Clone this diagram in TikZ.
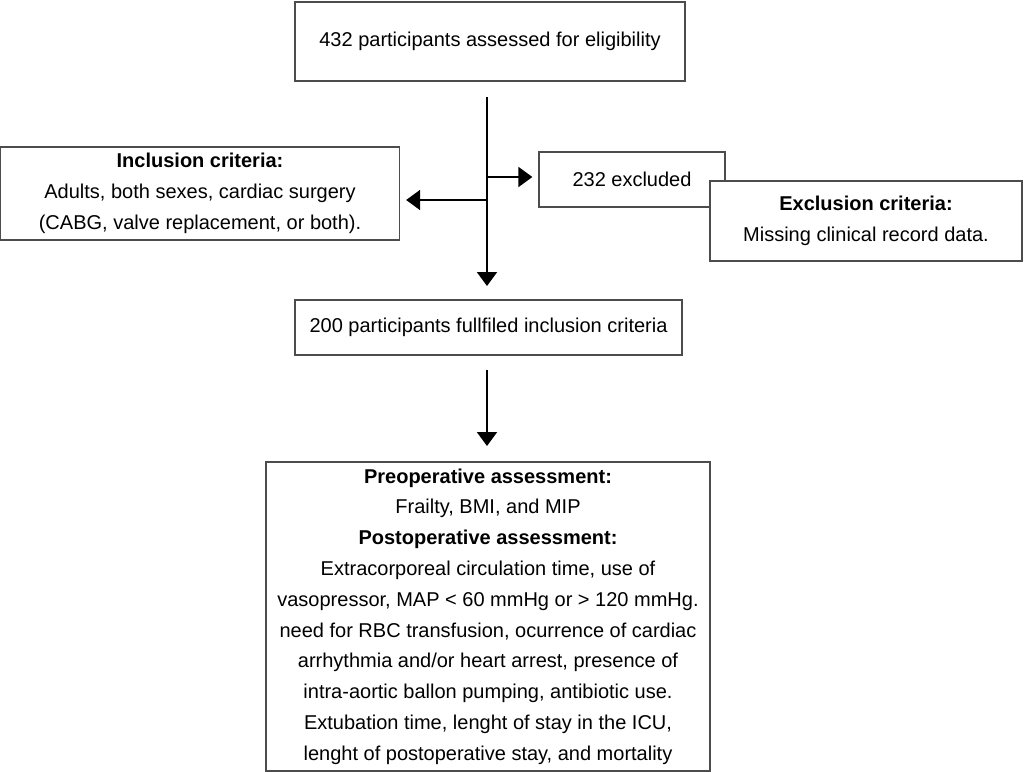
\documentclass[tikz,border=0pt]{standalone}
\usepackage{fontspec}
\setmainfont{Liberation Sans}
\usetikzlibrary{arrows.meta}
\begin{document}
\begin{tikzpicture}[x=1pt,y=-1pt,
  box/.style={draw=black!70,line width=1.3pt,fill=white,align=center,inner sep=0pt,
    font=\fontsize{20}{30.8}\selectfont},
  arr/.style={line width=2pt,-{Triangle[width=20pt,length=14pt]}},
  ln/.style={line width=2pt}]
\useasboundingbox (0,0) rectangle (1024,771);
\node[box,minimum width=390pt,minimum height=79pt] (top) at (490,41.5) {432 participants assessed for eligibility};
\node[box,minimum width=399pt,minimum height=93pt] (inc) at (200,193.5) {\textbf{Inclusion criteria:}\\Adults, both sexes, cardiac surgery\\(CABG, valve replacement, or both).};
\node[box,minimum width=186pt,minimum height=55pt] (exc) at (632,179.5) {232 excluded};
\node[box,minimum width=312pt,minimum height=80pt] (excc) at (866,221) {\textbf{Exclusion criteria:}\\Missing clinical record data.};
\node[box,minimum width=387pt,minimum height=55pt] (mid) at (488.5,327.5) {200 participants fullfiled inclusion criteria};
\node[box,minimum width=444pt,minimum height=309pt] (bot) at (488,616.5) {\textbf{Preoperative assessment:}\\Frailty, BMI, and MIP\\\textbf{Postoperative assessment:}\\Extracorporeal circulation time, use of\\vasopressor, MAP < 60 mmHg or > 120 mmHg.\\need for RBC transfusion, ocurrence of cardiac\\arrhythmia and/or heart arrest, presence of\\intra-aortic ballon pumping, antibiotic use.\\Extubation time, lenght of stay in the ICU,\\lenght of postoperative stay, and mortality};
\coordinate (a0) at (487,97);
\coordinate (a1) at (487,286);
\coordinate (jr) at (487,177);
\coordinate (jl) at (487,200);
\coordinate (b0) at (487,370);
\coordinate (b1) at (487,446);
\draw[arr] (a0) -- (a1);
\draw[arr,shorten >=6pt] (jr) -- (jr -| exc.west);
\draw[arr,shorten >=6pt] (jl) -- (jl -| inc.east);
\draw[arr] (b0) -- (b1);
\end{tikzpicture}
\end{document}
